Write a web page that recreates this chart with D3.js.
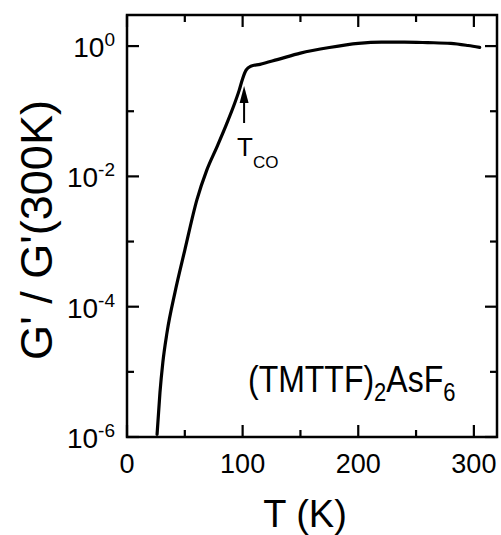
<!DOCTYPE html>
<html>
<head>
<meta charset="utf-8">
<script src="https://cdn.jsdelivr.net/npm/d3@7"></script>
<style>
  body { margin: 0; background: #fff; }
  svg { display: block; font-family: "Liberation Sans", Arial, sans-serif; }
</style>
</head>
<body>
<svg id="chart" width="501" height="535"></svg>
<script>
// Temperature (K) and normalized conductance G'/G'(300K)
const temperature = [26, 28.5, 31, 34.6, 41.5, 50, 60.5, 69, 78, 86, 92, 97, 100, 103, 107, 115, 130, 150, 175, 200, 220, 240, 260, 280, 295, 305];
const conductance = [1.1e-6, 4.8e-6, 1.4e-5, 4.0e-5, 1.66e-4, 7.4e-4, 4.4e-3, 1.25e-2, 2.9e-2, 6.3e-2, 0.117, 0.209, 0.316, 0.427, 0.49, 0.525, 0.62, 0.78, 0.95, 1.10, 1.15, 1.15, 1.13, 1.10, 1.02, 0.955];

const xMajorTicks = [0, 100, 200, 300];
const xMinorTicks = [50, 150, 250];
const yMajorTicks = [1e-6, 1e-4, 1e-2, 1];
const yMinorTicks = [1e-5, 1e-3, 1e-1];

const sampleLabel = ["(TMTTF)", "2", "AsF", "6"];
const transitionT = 103;

const svg = d3.select("#chart");
const plotLeft = 127, plotRight = 497, plotTop = 15, plotBottom = 437;

const x = d3.scaleLinear().domain([0, 320]).range([plotLeft, plotRight]);
const y = d3.scaleLog().domain([1e-6, 3]).range([plotBottom, plotTop]);

// curve
const line = d3.line()
  .x((d, i) => x(temperature[i]))
  .y(d => y(d))
  .curve(d3.curveMonotoneX);

svg.append("path")
  .datum(conductance)
  .attr("d", line)
  .attr("fill", "none")
  .attr("stroke", "#000")
  .attr("stroke-width", 3.2)
  .attr("stroke-linejoin", "round")
  .attr("stroke-linecap", "round");

// frame
svg.append("rect")
  .attr("x", plotLeft).attr("y", plotTop)
  .attr("width", plotRight - plotLeft).attr("height", plotBottom - plotTop)
  .attr("fill", "none").attr("stroke", "#000").attr("stroke-width", 2.5);

// inward ticks on all four sides
const tickData = [];
xMajorTicks.forEach(v => tickData.push({ axis: "x", v, len: 12 }));
xMinorTicks.forEach(v => tickData.push({ axis: "x", v, len: 7 }));
yMajorTicks.forEach(v => tickData.push({ axis: "y", v, len: 12 }));
yMinorTicks.forEach(v => tickData.push({ axis: "y", v, len: 7 }));

const tickG = svg.append("g").attr("fill", "#000");
tickData.forEach(t => {
  if (t.axis === "x") {
    const px = x(t.v);
    tickG.append("rect").attr("x", px - 1.1).attr("y", plotBottom - t.len).attr("width", 2.2).attr("height", t.len);
    tickG.append("rect").attr("x", px - 1.1).attr("y", plotTop).attr("width", 2.2).attr("height", t.len);
  } else {
    const py = y(t.v);
    tickG.append("rect").attr("x", plotLeft).attr("y", py - 1.1).attr("width", t.len).attr("height", 2.2);
    tickG.append("rect").attr("x", plotRight - t.len).attr("y", py - 1.1).attr("width", t.len).attr("height", 2.2);
  }
});

// x tick labels
svg.append("g").selectAll("text").data(xMajorTicks).join("text")
  .attr("x", d => x(d)).attr("y", 473)
  .attr("text-anchor", "middle")
  .attr("font-size", 27)
  .text(d => d);

// y tick labels with exponents
const yl = svg.append("g").selectAll("text").data(yMajorTicks).join("text")
  .attr("x", 115).attr("y", d => y(d) + 11)
  .attr("text-anchor", "end")
  .attr("font-size", 28);
yl.append("tspan").text("10");
yl.append("tspan").attr("dy", -11).attr("font-size", 19).text(d => Math.round(Math.log10(d)));

// axis titles
svg.append("text")
  .attr("x", 305).attr("y", 527)
  .attr("text-anchor", "middle").attr("font-size", 38)
  .text("T (K)");

svg.append("text")
  .attr("transform", "translate(52,230) rotate(-90)")
  .attr("text-anchor", "middle").attr("font-size", 45)
  .text("G' / G'(300K)");

// sample name
const s = svg.append("text").attr("transform", "translate(248,392) scale(1,1.18)").attr("font-size", 32);
s.append("tspan").text(sampleLabel[0]);
s.append("tspan").attr("dy", 8).attr("font-size", 22).text(sampleLabel[1]);
s.append("tspan").attr("dy", -8).text(sampleLabel[2]);
s.append("tspan").attr("dy", 8).attr("font-size", 22).text(sampleLabel[3]);

// transition arrow and label
const ax = x(transitionT) - 2;
svg.append("line")
  .attr("x1", ax).attr("x2", ax).attr("y1", 123).attr("y2", 100)
  .attr("stroke", "#000").attr("stroke-width", 2);
svg.append("path")
  .attr("d", `M${ax},86 L${ax - 4.5},103 L${ax + 4.5},103 Z`)
  .attr("fill", "#000");
const tc = svg.append("text").attr("x", ax - 7).attr("y", 156).attr("font-size", 26);
tc.append("tspan").text("T");
tc.append("tspan").attr("dy", 12).attr("font-size", 17).text("CO");
</script>
</body>
</html>
